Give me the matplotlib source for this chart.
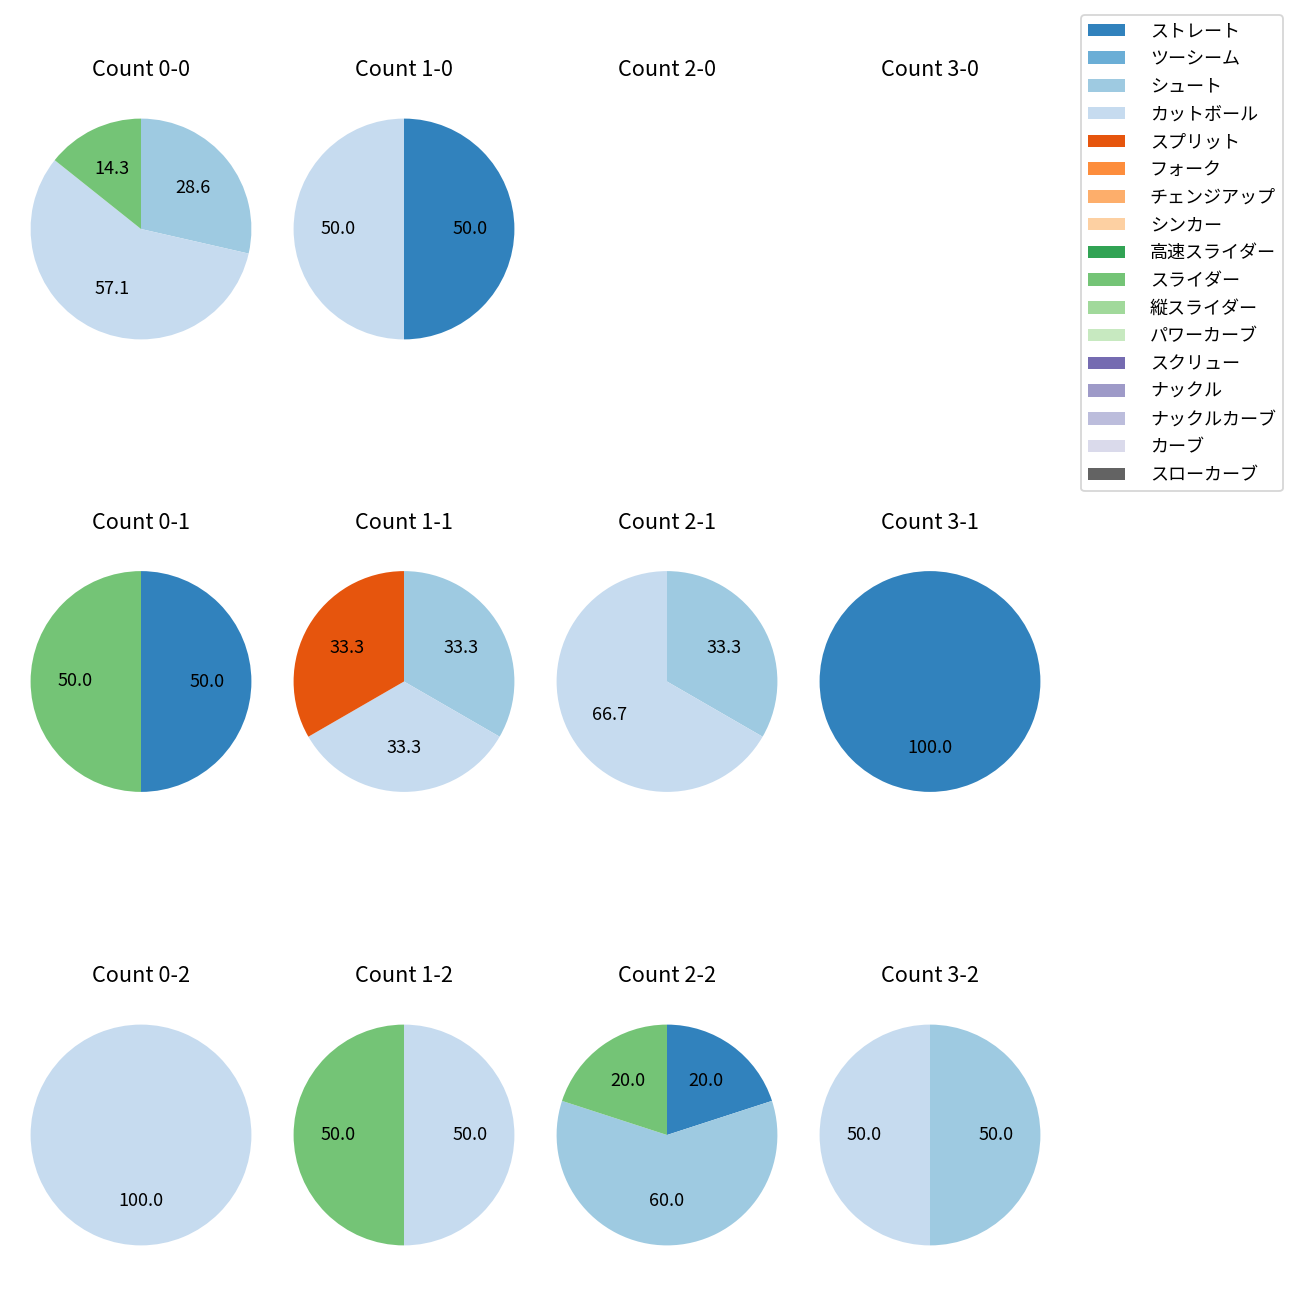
import matplotlib
matplotlib.use("Agg")
import matplotlib.pyplot as plt
from matplotlib.patches import Patch

plt.rcParams['font.family'] = ['Noto Sans CJK JP', 'DejaVu Sans']
plt.rcParams['font.size'] = 10

pitch_types = ["ストレート", "ツーシーム", "シュート", "カットボール", "スプリット", "フォーク",
               "チェンジアップ", "シンカー", "高速スライダー", "スライダー", "縦スライダー",
               "パワーカーブ", "スクリュー", "ナックル", "ナックルカーブ", "カーブ", "スローカーブ"]

balls = [0, 1, 2, 3]
strikes = [0, 1, 2]

# pitch counts per ball-strike count, in pitch_types order
count_0_0 = [0, 0, 2, 4, 0, 0, 0, 0, 0, 1, 0, 0, 0, 0, 0, 0, 0]
count_1_0 = [1, 0, 0, 1, 0, 0, 0, 0, 0, 0, 0, 0, 0, 0, 0, 0, 0]
count_2_0 = [0] * 17
count_3_0 = [0] * 17
count_0_1 = [1, 0, 0, 0, 0, 0, 0, 0, 0, 1, 0, 0, 0, 0, 0, 0, 0]
count_1_1 = [0, 0, 1, 1, 1, 0, 0, 0, 0, 0, 0, 0, 0, 0, 0, 0, 0]
count_2_1 = [0, 0, 1, 2, 0, 0, 0, 0, 0, 0, 0, 0, 0, 0, 0, 0, 0]
count_3_1 = [1, 0, 0, 0, 0, 0, 0, 0, 0, 0, 0, 0, 0, 0, 0, 0, 0]
count_0_2 = [0, 0, 0, 1, 0, 0, 0, 0, 0, 0, 0, 0, 0, 0, 0, 0, 0]
count_1_2 = [0, 0, 0, 1, 0, 0, 0, 0, 0, 1, 0, 0, 0, 0, 0, 0, 0]
count_2_2 = [1, 0, 3, 0, 0, 0, 0, 0, 0, 1, 0, 0, 0, 0, 0, 0, 0]
count_3_2 = [0, 0, 1, 1, 0, 0, 0, 0, 0, 0, 0, 0, 0, 0, 0, 0, 0]

data = {
    (0, 0): count_0_0, (1, 0): count_1_0, (2, 0): count_2_0, (3, 0): count_3_0,
    (0, 1): count_0_1, (1, 1): count_1_1, (2, 1): count_2_1, (3, 1): count_3_1,
    (0, 2): count_0_2, (1, 2): count_1_2, (2, 2): count_2_2, (3, 2): count_3_2,
}

cmap = plt.get_cmap('tab20c')
colors = [cmap(i) for i in range(len(pitch_types))]

W, H = 1300, 1300
fig, axes = plt.subplots(3, 4, figsize=(10, 10), dpi=130)

col_cx = [141, 404, 667, 930]
row_cy = [229, 681.5, 1135]
side = 276

for s in strikes:
    for b in balls:
        ax = axes[s][b]
        cx, cy = col_cx[b], row_cy[s]
        ax.set_position([(cx - side / 2) / W, 1 - (cy + side / 2) / H, side / W, side / H])
        vals = data[(b, s)]
        sel = [(v, colors[i]) for i, v in enumerate(vals) if v > 0]
        if sel:
            ax.pie([v for v, _ in sel], colors=[c for _, c in sel], autopct='%.1f',
                   startangle=90, counterclock=False, textprops={'fontsize': 10})
        else:
            ax.set_xticks([])
            ax.set_yticks([])
            for sp in ax.spines.values():
                sp.set_visible(False)
        ax.set_title(f"Count {b}-{s}", fontsize=12, pad=8.2)

handles = [Patch(facecolor=colors[i], label=p) for i, p in enumerate(pitch_types)]
fig.legend(handles=handles, loc='upper right',
           bbox_to_anchor=(1283 / W, 1 - 15 / H), borderaxespad=0, fontsize=10,
           labelspacing=0.54, handletextpad=1.4)

fig.savefig("out.png", dpi=130)
